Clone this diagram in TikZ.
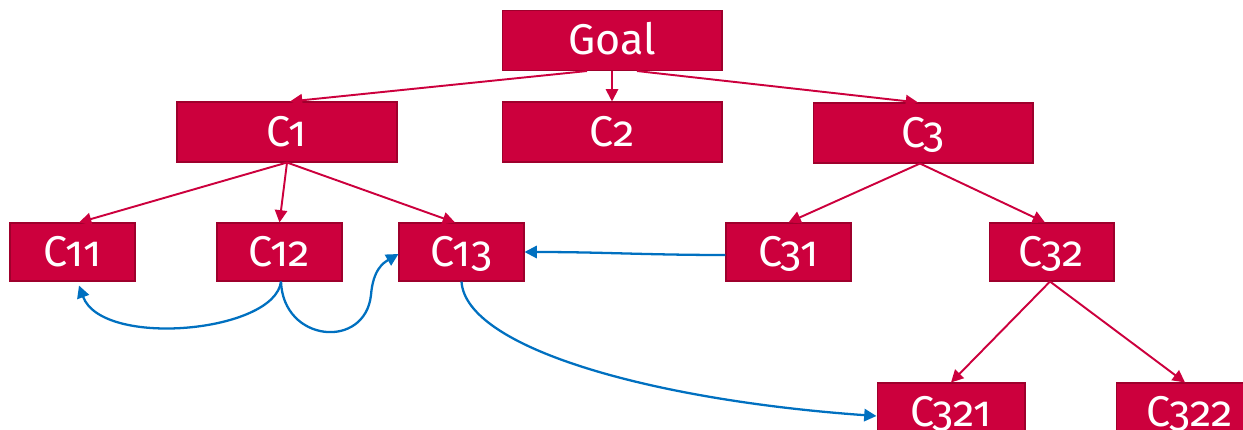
\documentclass[tikz,border=0pt]{standalone}
\usepackage{fontspec}
\setmainfont{Fira Sans}[Numbers=OldStyle]
\usetikzlibrary{arrows.meta, positioning}
\definecolor{boxred}{RGB}{204,0,61}
\definecolor{boxedge}{RGB}{158,0,44}
\definecolor{linkblue}{RGB}{0,112,192}

\begin{document}
\begin{tikzpicture}[x=0.02cm, y=-0.02cm, >={Triangle[length=7pt,width=7pt]}]
    \tikzstyle{format} = [draw=boxedge, line width=0.6pt, fill=boxred,
	text=white, font=\fontsize{24.5}{26}\selectfont, text height=16.5pt,
	text depth=0pt, inner sep=0pt]
    \tikzstyle{big} = [format, minimum width=4.4cm, minimum height=1.2cm]
    \tikzstyle{small} = [format, minimum width=2.5cm, minimum height=1.16cm]
    \tikzstyle{wide} = [format, minimum width=2.96cm, minimum height=1.16cm]
    \tikzstyle{tree} = [boxred, line width=1.1pt]
    \tikzstyle{link} = [linkblue, line width=1.3pt]

    \useasboundingbox (0,0) rectangle (1243,429);

		\path[->]
			node[big] (goal) at (612,40.5) {Goal}
			node[big] (c1) at (287,132) {C1}
			node[big] (c2) at (612,132) {C2}
			node[big] (c3) at (923,133) {C3}
			node[small] (c11) at (72.5,252) {C11}
			node[small] (c12) at (279.5,252) {C12}
			node[small] (c13) at (461.5,252) {C13}
			node[small] (c31) at (788.5,252) {C31}
			node[small] (c32) at (1051.5,252) {C32}
			node[wide] (c321) at (951,412) {C321}
			node[wide] (c322) at (1190,412) {C322}

			([xshift=-0.5cm]goal.south) edge[tree] ([xshift=0.06cm]c1.north)
			(goal.south) edge[tree] (c2.north)
			([xshift=0.5cm]goal.south) edge[tree] ([xshift=-0.1cm]c3.north)
			(c1.south) edge[tree] ([xshift=0.13cm]c11.north)
			(c1.south) edge[tree] (c12.north)
			(c1.south) edge[tree] ([xshift=-0.13cm]c13.north)
			([xshift=-0.06cm]c3.south) edge[tree] (c31.north)
			([xshift=-0.06cm]c3.south) edge[tree] ([xshift=-0.13cm]c32.north)
			([xshift=-0.03cm]c32.south) edge[tree] (c321.north)
			([xshift=-0.03cm]c32.south) edge[tree] ([xshift=-0.1cm]c322.north)
		;

		% blue links
		\draw[->, link] ([xshift=0.03cm]c12.south) .. controls +(-6,51) and +(23,63)
			.. ([xshift=0.13cm, yshift=-0.08cm]c11.south);
		\draw[->, link] ([xshift=0.03cm]c12.south) .. controls +(2,61) and (365,350)
			.. (371,295) .. controls (373,270) and (383,263) .. ([yshift=-0.04cm]c13.west);
		\draw[->, link] (c13.south) .. controls +(4,66) and (650,400)
			.. ([yshift=-0.08cm]c321.west);
		\draw[->, link] ([yshift=-0.06cm]c31.west) to[out=180, in=0] (c13.east);

\end{tikzpicture}
\end{document}
